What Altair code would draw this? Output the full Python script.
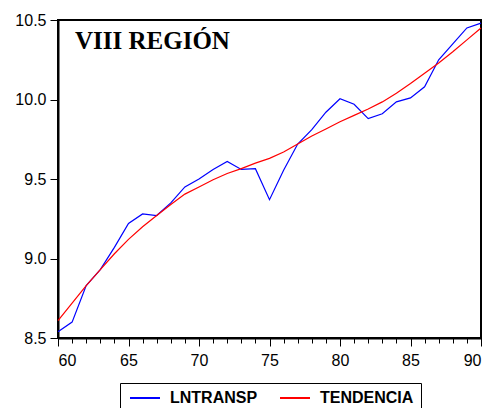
import altair as alt
import pandas as pd

years = list(range(60, 91))
lntransp = [8.54, 8.60, 8.83, 8.93, 9.07, 9.22, 9.28, 9.27, 9.35, 9.45,
            9.50, 9.56, 9.61, 9.56, 9.565, 9.37, 9.555, 9.72, 9.81, 9.92,
            10.005, 9.97, 9.88, 9.91, 9.985, 10.01, 10.08, 10.25, 10.35, 10.45,
            10.48]
tendencia = [8.61, 8.72, 8.83, 8.93, 9.03, 9.12, 9.20, 9.27, 9.34, 9.405,
             9.45, 9.495, 9.535, 9.565, 9.60, 9.63, 9.67, 9.72, 9.77, 9.815,
             9.86, 9.90, 9.94, 9.985, 10.04, 10.10, 10.165, 10.23, 10.30, 10.375,
             10.45]
series_names = ["LNTRANSP", "TENDENCIA"]
series_colors = ["#0000ff", "#ff0000"]
y_ticks = [8.5, 9.0, 9.5, 10.0, 10.5]
title_text = "VIII REGIÓN"

rows = []
for name, vals in zip(series_names, [lntransp, tendencia]):
    for yr, v in zip(years, vals):
        rows.append({"year": yr, "value": v, "series": name})
df = pd.DataFrame(rows)

lines = alt.Chart(df).mark_line(strokeWidth=1.2).encode(
    x=alt.X("year:Q", scale=alt.Scale(domain=[60, 90], nice=False, zero=False),
            axis=alt.Axis(values=years, title=None, grid=False,
                          labelExpr="datum.value % 5 === 0 ? datum.label : ''",
                          tickSize={"condition": {"test": "datum.value % 5 === 0", "value": 8}, "value": 5},
                          labelPadding=6)),
    y=alt.Y("value:Q", scale=alt.Scale(domain=[8.5, 10.5], nice=False, zero=False),
            axis=alt.Axis(values=y_ticks, format=".1f", title=None, grid=False,
                          tickSize=8, labelPadding=4)),
    color=alt.Color("series:N",
                    scale=alt.Scale(domain=series_names, range=series_colors),
                    legend=alt.Legend(orient="none", legendX=62, legendY=363,
                                      direction="horizontal", title=None,
                                      strokeColor="black", padding=7,
                                      symbolType="M-1,0H5", symbolSize=100,
                                      symbolStrokeWidth=2, labelOffset=27,
                                      columnPadding=18,
                                      labelFont="Liberation Sans", labelFontWeight="bold",
                                      labelFontSize=16, labelColor="black")),
    detail="series:N",
)

title_df = pd.DataFrame({"t": [title_text]})
title = alt.Chart(title_df).mark_text(
    font="Liberation Serif", fontWeight="bold", fontSize=25,
    align="left", baseline="alphabetic", color="black"
).encode(text="t:N", x=alt.value(17), y=alt.value(29))

chart = alt.layer(lines, title).properties(
    width=423, height=318,
    autosize=alt.AutoSizeParams(type="none"),
    padding={"left": 50, "top": 12, "right": 1, "bottom": 70},
).configure_view(stroke="black", strokeWidth=2).configure_axis(
    domainColor="black", domainWidth=2, tickColor="black", tickWidth=1,
    labelFont="Liberation Sans", labelFontSize=16, labelColor="black",
)

chart.save("out.html", embed_options={"renderer": "svg", "actions": False})
